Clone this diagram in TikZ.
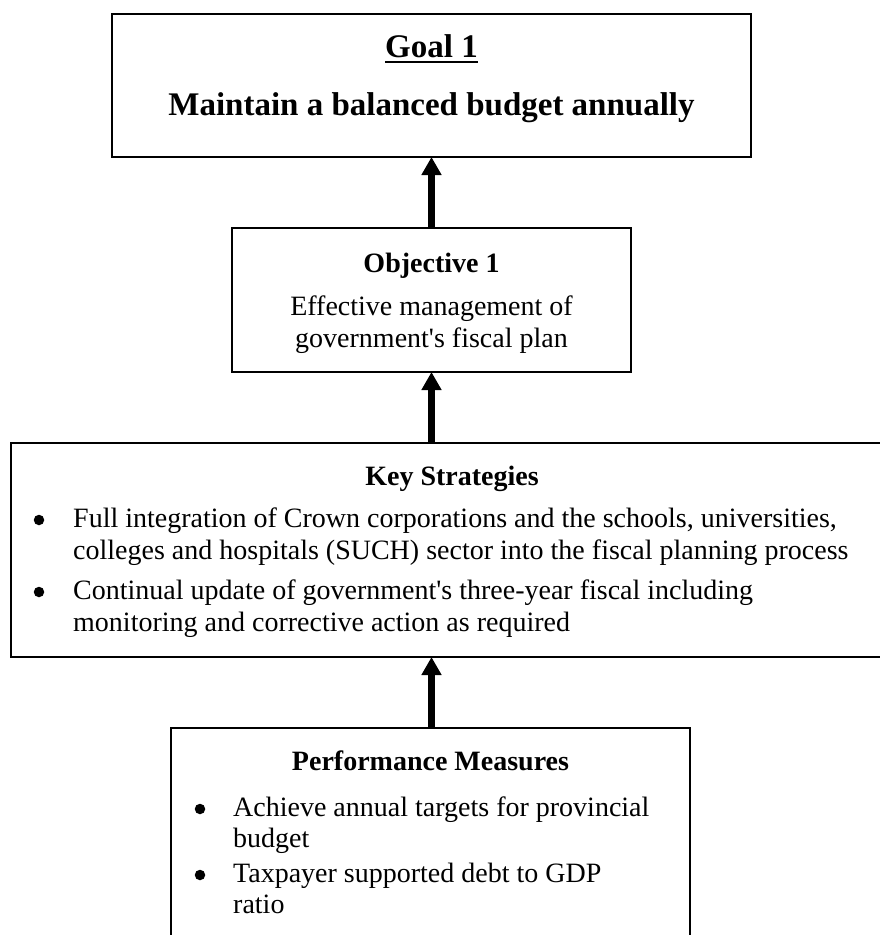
\documentclass[tikz,border=0pt]{standalone}
\usepackage{fontspec}
\newfontfamily\docfont{Liberation Serif}
\usetikzlibrary{arrows.meta}
\begin{document}
\begin{tikzpicture}[x=1pt,y=-1pt,
  box/.style={draw=black, line width=2pt, rectangle, inner sep=0pt, outer sep=0pt},
  link/.style={line width=7pt, -{Triangle[width=19pt,length=18pt]}},
  bodytext/.style={inner sep=0pt, font=\docfont\fontsize{28}{32}\selectfont},
  headtext/.style={inner sep=0pt, font=\docfont\bfseries\fontsize{28}{32}\selectfont},
  goaltext/.style={inner sep=0pt, font=\docfont\bfseries\fontsize{33}{38}\selectfont},
  dot/.style={circle, fill=black, draw=none, inner sep=0pt, minimum size=10.5pt}]
\useasboundingbox (0,0) rectangle (880,935);

% frames
\node[box, minimum width=639pt, minimum height=143pt] (goal) at (431.5,85.5) {};
\node[box, minimum width=399pt, minimum height=144pt] (obj) at (431.5,300) {};
\node[box, minimum width=882pt, minimum height=214pt] (key) at (452,550) {};
\node[box, minimum width=519pt, minimum height=232pt] (perf) at (430.5,844) {};

% goal
\node[goaltext, anchor=base] (goalhead) at (431.5,57) {Goal 1};
\draw[line width=1.6pt] ([yshift=-5pt]goalhead.base west) -- ([yshift=-5pt]goalhead.base east);
\node[goaltext, anchor=base] (goalline) at (431.5,115) {Maintain a balanced budget annually};

% objective
\node[headtext, anchor=base] (objhead) at (431.5,272) {Objective 1};
\node[bodytext, anchor=base] (objl1) at (431.5,315) {Effective management of};
\node[bodytext, anchor=base] (objl2) at (431.5,347) {government's fiscal plan};

% key strategies
\node[headtext, anchor=base] (keyhead) at (452,485) {Key Strategies};
\node[dot] (keyb1) at (39,520) {};
\node[bodytext, anchor=base west] (keyl1) at (73,527) {Full integration of Crown corporations and the schools, universities,};
\node[bodytext, anchor=base west] (keyl2) at (73,559) {colleges and hospitals (SUCH) sector into the fiscal planning process};
\node[dot] (keyb2) at (39,592) {};
\node[bodytext, anchor=base west] (keyl3) at (73,599) {Continual update of government's three-year fiscal including};
\node[bodytext, anchor=base west] (keyl4) at (73,631) {monitoring and corrective action as required};

% performance measures
\node[headtext, anchor=base] (perfhead) at (430.5,770) {Performance Measures};
\node[dot] (perfb1) at (200,809) {};
\node[bodytext, anchor=base west] (perfl1) at (233,816) {Achieve annual targets for provincial};
\node[bodytext, anchor=base west] (perfl2) at (233,847) {budget};
\node[dot] (perfb2) at (200,875) {};
\node[bodytext, anchor=base west] (perfl3) at (233,882) {Taxpayer supported debt to GDP};
\node[bodytext, anchor=base west] (perfl4) at (233,913) {ratio};

% connectors
\draw[link] (obj.north) -- (goal.south);
\draw[link] (key.north -| obj.south) -- (obj.south);
\draw[link] (perf.north -| obj.south) -- (key.south -| obj.south);
\end{tikzpicture}
\end{document}
